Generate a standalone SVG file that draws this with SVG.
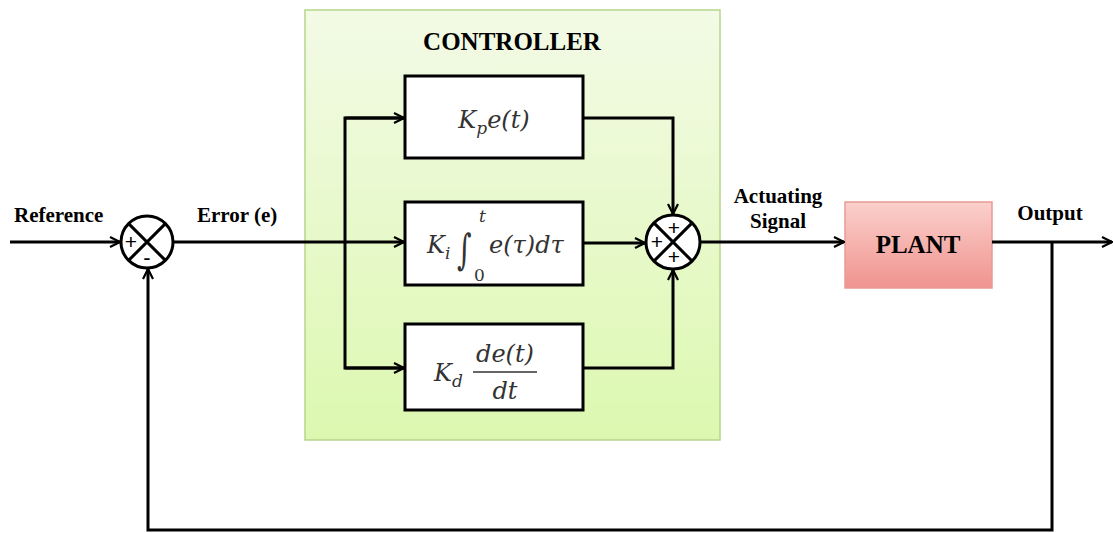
<svg xmlns="http://www.w3.org/2000/svg" width="1114" height="533" viewBox="0 0 1114 533">
<defs>
<linearGradient id="gGreen" x1="0" y1="0" x2="0" y2="1"><stop offset="0" stop-color="#f3fae6"/><stop offset="1" stop-color="#dcf8b0"/></linearGradient>
<linearGradient id="gPink" x1="0" y1="0" x2="0" y2="1"><stop offset="0" stop-color="#fbd0cc"/><stop offset="1" stop-color="#f0938e"/></linearGradient>
<marker id="arr" viewBox="0 0 12 12" refX="11" refY="6" markerWidth="12" markerHeight="12" markerUnits="userSpaceOnUse" orient="auto"><path d="M1,1 L11,6 L1,11" fill="none" stroke="#000" stroke-width="2.2"/></marker>
</defs>
<style>
.ln{fill:none;stroke:#000;stroke-width:3}
.blk{fill:#fff;stroke:#000;stroke-width:3}
.lbl{font-family:"Liberation Serif",serif;font-weight:bold;font-size:21px;fill:#000}
.math{font-family:"DejaVu Serif","Liberation Serif",serif;font-style:italic;font-size:24px;fill:#333}
.sgn{font-family:"Liberation Sans",sans-serif;font-size:21px;fill:#000}
</style>
<rect width="1114" height="533" fill="#fff"/>
<g id="controller">
<rect x="305" y="10" width="415" height="430" fill="url(#gGreen)" stroke="#b7d58c" stroke-width="1.5"/>
<text x="512" y="50" text-anchor="middle" class="lbl" style="font-size:25px">CONTROLLER</text>
</g>
<g id="sum1">
<circle cx="147" cy="242" r="26" class="blk"/>
<path d="M128.6,223.6 L165.4,260.4 M165.4,223.6 L128.6,260.4" class="ln"/>
<text x="131" y="249" text-anchor="middle" class="sgn">+</text>
<text x="147" y="265" text-anchor="middle" class="sgn" style="font-size:22px">-</text>
</g>
<g id="kp">
<rect x="405" y="76" width="178" height="82" class="blk"/>
<text x="494" y="128" text-anchor="middle" class="math">K<tspan font-size="17" dy="6">p</tspan><tspan dy="-6">e(t)</tspan></text>
</g>
<g id="ki">
<rect x="405" y="202" width="178" height="83" class="blk"/>
<text x="427" y="253" class="math">K<tspan font-size="17" dy="6">i</tspan></text>
<text x="0" y="0" transform="translate(457,264) scale(1,1.5)" class="math" style="font-size:28px;font-style:normal">∫</text>
<text x="479" y="222" class="math" style="font-size:17px">t</text>
<text x="474" y="281" class="math" style="font-size:17px;font-style:normal">0</text>
<text x="489" y="253" class="math">e(τ)dτ</text>
</g>
<g id="kd">
<rect x="405" y="324" width="178" height="86" class="blk"/>
<text x="434" y="381" class="math">K<tspan font-size="17" dy="6">d</tspan></text>
<text x="505" y="362" text-anchor="middle" class="math">de(t)</text>
<line x1="473" y1="372" x2="537" y2="372" stroke="#666" stroke-width="2"/>
<text x="505" y="399" text-anchor="middle" class="math">dt</text>
</g>
<g id="sum2">
<circle cx="673" cy="242" r="27" class="blk"/>
<path d="M653.9,222.9 L692.1,261.1 M692.1,222.9 L653.9,261.1" class="ln"/>
<text x="674" y="235" text-anchor="middle" class="sgn">+</text>
<text x="657" y="249" text-anchor="middle" class="sgn">+</text>
<text x="674" y="264" text-anchor="middle" class="sgn">+</text>
</g>
<g id="plant">
<rect x="845" y="202" width="147" height="86" fill="url(#gPink)" stroke="#e79a95" stroke-width="1.5"/>
<text x="918" y="253" text-anchor="middle" class="lbl" style="font-size:25px">PLANT</text>
</g>
<g id="connectors">
<line x1="10" y1="242" x2="120" y2="242" class="ln" marker-end="url(#arr)"/>
<line x1="173" y1="242" x2="404" y2="242" class="ln" marker-end="url(#arr)"/>
<path d="M404,118 L345,118 L345,368 L404,368" class="ln"/>
<line x1="345" y1="118" x2="404" y2="118" class="ln" marker-end="url(#arr)"/>
<line x1="345" y1="368" x2="404" y2="368" class="ln" marker-end="url(#arr)"/>
<path d="M583,118 L673,118 L673,214" class="ln" marker-end="url(#arr)"/>
<path d="M583,368 L673,368 L673,270" class="ln" marker-end="url(#arr)"/>
<line x1="583" y1="243" x2="645" y2="243" class="ln" marker-end="url(#arr)"/>
<line x1="700" y1="242" x2="844" y2="242" class="ln" marker-end="url(#arr)"/>
<line x1="992" y1="242" x2="1112" y2="242" class="ln" marker-end="url(#arr)"/>
<path d="M1052,242 L1052,530 L148,530 L148,269" class="ln" marker-end="url(#arr)"/>
</g>
<g id="labels">
<text x="14" y="222" class="lbl">Reference</text>
<text x="197" y="222" class="lbl">Error (e)</text>
<text x="778" y="203" text-anchor="middle" class="lbl">Actuating</text>
<text x="778" y="228" text-anchor="middle" class="lbl">Signal</text>
<text x="1050" y="220" text-anchor="middle" class="lbl">Output</text>
</g>
</svg>
